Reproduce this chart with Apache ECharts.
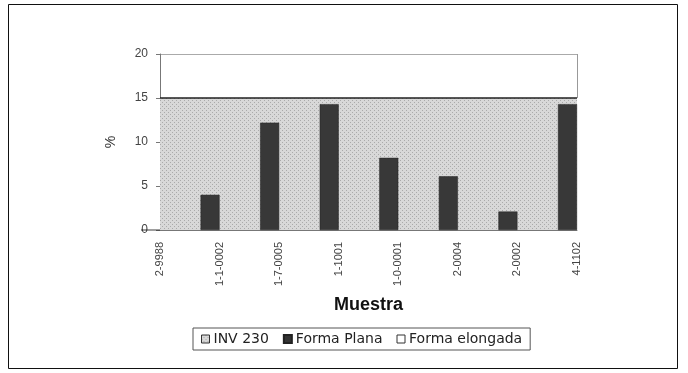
<!DOCTYPE html>
<html>
<head>
<meta charset="utf-8">
<script src="https://cdn.jsdelivr.net/npm/echarts@6/dist/echarts.min.js"></script>
<style>
  html, body { margin: 0; padding: 0; background: #fff; }
  #chart { width: 688px; height: 373px; }
</style>
</head>
<body>
<div id="chart"></div>
<script>
// Sample identifiers along the category axis
const categories = ['2-9988', '1-1-0002', '1-7-0005', '1-1001', '1-0-0001', '2-0004', '2-0002', '4-1102'];
// INV 230 limit (%)
const inv230 = [15, 15, 15, 15, 15, 15, 15, 15];
// Flat particles (%)
const formaPlana = [0, 4, 12.2, 14.3, 8.2, 6.1, 2.1, 14.3];
// Elongated particles (%)
const formaElongada = [0, 0, 0, 0, 0, 0, 0, 0];
// Y axis ticks
const yTicks = { min: 0, max: 20, step: 5 };

// Dotted grey fill used for the INV 230 band
function dotPattern() {
  const c = document.createElement('canvas');
  c.width = 4; c.height = 4;
  const g = c.getContext('2d');
  g.fillStyle = '#d8d8d8';
  g.fillRect(0, 0, 4, 4);
  g.fillStyle = '#aaaaaa';
  g.fillRect(0, 0, 1, 1);
  g.fillRect(2, 2, 1, 1);
  return c;
}
const bandFill = { image: dotPattern(), repeat: 'repeat' };

const chart = echarts.init(document.getElementById('chart'), null, { renderer: 'canvas' });
chart.setOption({
  animation: false,
  backgroundColor: '#fff',
  textStyle: { fontFamily: 'Liberation Sans, Arial, sans-serif' },
  grid: { left: 160, right: 111, top: 54, bottom: 143 },
  legend: {
    top: 328,
    left: 193,
    itemWidth: 8,
    itemHeight: 8,
    itemGap: 14,
    padding: [4, 8],
    borderColor: '#555',
    borderWidth: 1,
    textStyle: { fontSize: 14, color: '#222', fontFamily: 'DejaVu Sans, sans-serif', padding: [0, 0, 0, -1] },
    data: [
      { name: 'INV 230', icon: 'rect', itemStyle: { color: bandFill, borderColor: '#333', borderWidth: 1 } },
      { name: 'Forma Plana', icon: 'rect', itemStyle: { color: '#333' } },
      { name: 'Forma elongada', icon: 'rect', itemStyle: { color: '#fff', borderColor: '#333', borderWidth: 1 } }
    ]
  },
  xAxis: {
    type: 'category',
    data: categories,
    boundaryGap: false,
    name: 'Muestra',
    nameLocation: 'middle',
    nameGap: 66,
    nameTextStyle: { fontSize: 18, fontWeight: 'bold', color: '#111' },
    axisLine: { lineStyle: { color: '#777' } },
    axisTick: { show: false },
    axisLabel: { rotate: 90, fontSize: 11, color: '#444', margin: 12 }
  },
  yAxis: {
    type: 'value',
    min: yTicks.min,
    max: yTicks.max,
    interval: yTicks.step,
    name: '%',
    nameLocation: 'middle',
    nameGap: 42,
    nameRotate: 90,
    nameTextStyle: { fontSize: 14, color: '#333' },
    axisLine: { show: true, lineStyle: { color: '#777' } },
    axisTick: { show: true, length: 4, lineStyle: { color: '#777' } },
    axisLabel: { fontSize: 12, color: '#444', margin: 12 },
    splitLine: { show: true, lineStyle: { color: '#aaa' } }
  },
  series: [
    {
      name: 'INV 230',
      type: 'line',
      data: inv230,
      symbol: 'none',
      lineStyle: { color: '#222', width: 1.5 },
      itemStyle: { color: bandFill },
      areaStyle: { color: bandFill, opacity: 1 },
      z: 1
    },
    {
      name: 'Forma Plana',
      type: 'bar',
      data: formaPlana,
      barWidth: 19,
      barGap: '0%',
      itemStyle: { color: '#383838', borderColor: '#222', borderWidth: 0.5 },
      z: 3
    },
    {
      name: 'Forma elongada',
      type: 'bar',
      data: formaElongada,
      barWidth: 19,
      barGap: '0%',
      itemStyle: { color: '#fff', borderWidth: 0 },
      z: 3
    }
  ]
});
// Outer frame and the right edge of the plot above the band
chart.setOption({
  graphic: [{
    type: 'rect',
    shape: { x: 8.5, y: 4.5, width: 669, height: 364 },
    style: { fill: 'none', stroke: '#111', lineWidth: 1 },
    silent: true
  }, {
    type: 'line',
    shape: (function () {
      const top = chart.convertToPixel({ yAxisIndex: 0 }, yTicks.max);
      const x = chart.convertToPixel({ xAxisIndex: 0 }, categories[categories.length - 1]);
      return { x1: x + 0.5, y1: top, x2: x + 0.5, y2: chart.convertToPixel({ yAxisIndex: 0 }, inv230[0]) };
    })(),
    style: { stroke: '#999', lineWidth: 1 },
    silent: true
  }]
});
</script>
</body>
</html>
